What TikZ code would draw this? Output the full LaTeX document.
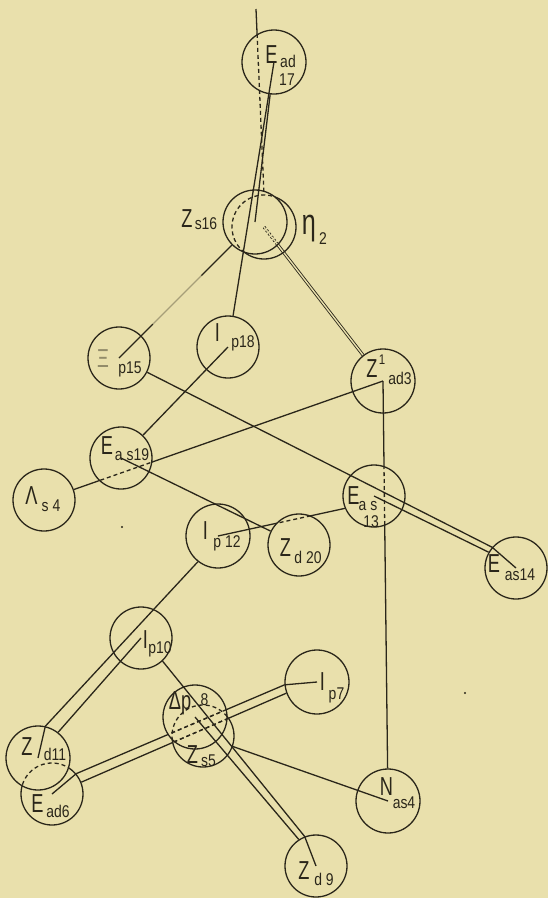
\documentclass[tikz,border=0pt]{standalone}
\usepackage{fontspec}
\usetikzlibrary{calc}
\newfontfamily\lfm[FakeStretch=0.7]{Liberation Sans}
\newfontfamily\lfs[FakeStretch=0.82]{Liberation Sans}
\definecolor{paper}{RGB}{233,224,172}
\definecolor{ink}{RGB}{42,38,26}
\newcommand\outclip[2]{\clip (-20,-20) rectangle (570,920) (#1.center) circle (#2pt);}
\newcommand\inclip[2]{\clip (#1.center) circle (#2pt);}
\newcommand\ballline[2]{\draw[ln] (#1.center) circle (#2pt);}
\tikzset{
  ln/.style={draw=ink, line width=1.3pt},
  hid/.style={dash pattern=on 4pt off 3pt},
  ghost/.style={circle, inner sep=0pt, outer sep=0.65pt},
  lab/.style={inner sep=0pt, text=ink, font=\lfm\fontsize{26}{26}\selectfont},
  sub/.style={inner sep=0pt, text=ink, font=\lfs\fontsize{17}{17}\selectfont},
  dbl/.style={draw=ink, line width=0.85pt, double=paper, double distance=1.4pt},
}
\begin{document}
\begin{tikzpicture}[x=1pt,y=-1pt]
\useasboundingbox (0,0) rectangle (548,898);
\fill[paper] (0,0) rectangle (548,898);

% ---- spheres (named) ----
\node[ghost,minimum size=64pt] (E17) at (274,62) {};
\node[ghost,minimum size=64pt] (Z16) at (255,222) {};
\node[ghost,minimum size=64pt] (H2)  at (264,227) {};
\node[ghost,minimum size=62pt] (X15) at (119,358) {};
\node[ghost,minimum size=62pt] (I18) at (228,347) {};
\node[ghost,minimum size=64pt] (Z3)  at (383,381) {};
\node[ghost,minimum size=62pt] (E19) at (121,458) {};
\node[ghost,minimum size=62pt] (L4)  at (44,500) {};
\node[ghost,minimum size=62pt] (E13) at (374,496) {};
\node[ghost,minimum size=64pt] (I12) at (218,536) {};
\node[ghost,minimum size=62pt] (Z20) at (299,545) {};
\node[ghost,minimum size=62pt] (E14) at (516,568) {};
\node[ghost,minimum size=62pt] (I10) at (141,638) {};
\node[ghost,minimum size=64pt] (I7)  at (317,682) {};
\node[ghost,minimum size=64pt] (D8)  at (195,717) {};
\node[ghost,minimum size=62pt] (Z5)  at (203,736) {};
\node[ghost,minimum size=64pt] (Z11) at (38,758) {};
\node[ghost,minimum size=62pt] (E6)  at (52,794) {};
\node[ghost,minimum size=64pt] (N4)  at (388,801) {};
\node[ghost,minimum size=62pt] (Z9)  at (316,866) {};

% ---- connectors ----
\coordinate (top) at (256,9);
\coordinate (topin) at ($(top)!0.134!(H2.north)$);
\draw[ln] (top) -- (topin);
\draw[ln,hid] (topin) -- (H2.north);

\draw[ln] (E17.center) -- (I18);
\draw[ln] (E17) -- (Z16.center);

\path (Z16) -- coordinate[pos=0.27] (f1) coordinate[pos=0.70] (f2) (X15.center);
\draw[ln] (Z16) -- (f1);
\draw[ln, draw opacity=0.35] (f1) -- (f2);
\draw[ln] (f2) -- (X15.center);

\begin{scope}[even odd rule]\outclip{Z16}{32}\draw[dbl] (H2.center) -- (Z3);\end{scope}
\begin{scope}\inclip{Z16}{32}\draw[dbl,dash pattern=on 2pt off 2pt] (H2.center) -- (Z3);\end{scope}

\draw[ln] (I18.center) -- (E19);
\draw[ln] (X15) -- (E14.139) -- (E14.center);
\draw[ln] (E13.center) -- (E14.150);

\begin{scope}[even odd rule]\outclip{E19}{31}\draw[ln] (L4) -- (Z3.center);\end{scope}
\begin{scope}\inclip{E19}{31}\draw[ln,hid] (L4) -- (Z3.center);\end{scope}

\draw[ln] (E19.center) -- (Z20);

\begin{scope}[even odd rule]\outclip{Z20}{31}\draw[ln] (I12.center) -- (E13.203);\end{scope}
\begin{scope}\inclip{Z20}{31}\draw[ln,hid] (I12.center) -- (E13.203);\end{scope}

\begin{scope}[even odd rule]\outclip{E13}{31}\draw[ln] (Z3.center) -- (N4);\end{scope}
\begin{scope}\inclip{E13}{31}\draw[ln,hid] (Z3.center) -- (N4);\end{scope}

\draw[ln] (I12.232) -- (Z11.77) -- (Z11.center);
\draw[ln] (I10.center) -- (Z11.52);

\draw[ln] (I10.-47) -- (Z9.111) -- (Z9.center);
\draw[ln] (D8.center) -- (Z9.123);

\draw[ln] (Z5) -- (N4.center);

\draw[ln] (I7.center) -- (I7.185);
\draw[ln] (E6.40) -- (E6.center);
\begin{scope}[even odd rule]\outclip{D8}{32}
  \begin{scope}[even odd rule]\outclip{Z5}{31}
    \draw[ln] (I7.185) -- (E6.40);
    \draw[ln] (I7.200) -- (E6.22);
  \end{scope}
\end{scope}
\begin{scope}\inclip{D8}{32}
  \draw[ln,hid] (I7.185) -- (E6.40);
  \draw[ln,hid] (I7.200) -- (E6.22);
\end{scope}
\begin{scope}\inclip{Z5}{31}
  \draw[ln,hid] (I7.185) -- (E6.40);
  \draw[ln,hid] (I7.200) -- (E6.22);
\end{scope}

% ---- sphere outlines ----
\ballline{E17}{32}
\ballline{Z16}{32}
\begin{scope}[even odd rule]\outclip{Z16}{32}\ballline{H2}{32}\end{scope}
\begin{scope}\inclip{Z16}{32}\draw[ln,hid] (H2.center) circle (32pt);\end{scope}
\ballline{X15}{31}
\ballline{I18}{31}
\ballline{Z3}{32}
\ballline{E19}{31}
\ballline{L4}{31}
\ballline{E13}{31}
\ballline{I12}{32}
\ballline{Z20}{31}
\ballline{E14}{31}
\ballline{I10}{31}
\ballline{I7}{32}
\ballline{D8}{32}
\begin{scope}[even odd rule]\outclip{D8}{32}\ballline{Z5}{31}\end{scope}
\begin{scope}\inclip{D8}{32}\draw[ln,hid] (Z5.center) circle (31pt);\end{scope}
\ballline{Z11}{32}
\begin{scope}[even odd rule]\outclip{Z11}{32}\ballline{E6}{31}\end{scope}
\begin{scope}\inclip{Z11}{32}\draw[ln,hid] (E6.center) circle (31pt);\end{scope}
\ballline{N4}{32}
\ballline{Z9}{31}

% ---- specks ----
\fill[ink] (122,527) circle (1.2pt);
\fill[ink] (465,693) circle (1.2pt);

% ---- labels ----
\node[lab] (tE17) at (271.5,55) {E};
\node[sub] (sE17) at (288,61.5) {ad};
\node[sub] (nE17) at (287,80) {17};
\node[lab] (tZ16) at (187,219) {Z};
\node[sub] (sZ16) at (206,224) {s16};
\node[lab,font=\lfm\fontsize{36}{36}\selectfont] (tH2) at (309,229) {η};
\node[sub] (sH2) at (323,239) {2};
\node[lab,text opacity=0.45] (tX15) at (103,358.5) {Ξ};
\node[sub] (sX15) at (130,369) {p15};
\node[lab] (tI18) at (217.5,333) {I};
\node[sub] (sI18) at (243,343) {p18};
\node[lab] (tZ3) at (372,369) {Z};
\node[sub,font=\lfs\fontsize{14}{14}\selectfont] (uZ3) at (382,360) {1};
\node[sub] (sZ3) at (400,378) {ad3};
\node[lab] (tE19) at (107,446) {E};
\node[sub] (sE19) at (132,455) {a s19};
\node[lab] (tL4) at (31.5,496) {Λ};
\node[sub] (sL4) at (51,506) {s 4};
\node[lab] (tI12) at (205.5,531) {I};
\node[sub] (sI12) at (227,543) {p 12};
\node[lab] (tZ20) at (285.5,548) {Z};
\node[sub] (sZ20) at (308,557.5) {d 20};
\node[lab] (tE13) at (353.5,496) {E};
\node[sub] (sE13) at (368,506.5) {a s};
\node[sub] (nE13) at (371,521.5) {13};
\node[lab] (tE14) at (494,564) {E};
\node[sub] (sE14) at (520,574.5) {as14};
\node[lab] (tI10) at (145.5,639.5) {I};
\node[sub] (sI10) at (160,649) {p10};
\node[lab] (tZ11) at (27,747) {Z};
\node[sub] (sZ11) at (55,754.5) {d11};
\node[lab] (tE6) at (37.5,804) {E};
\node[sub] (sE6) at (58,811.5) {ad6};
\node[lab] (tD8) at (180,703) {Δp};
\node[sub] (sD8) at (204.5,699.5) {8};
\node[lab] (tZ5) at (192.5,755) {Z};
\node[sub] (sZ5) at (208.5,760.5) {s5};
\node[lab] (tI7) at (322.5,682) {I};
\node[sub] (sI7) at (336.5,695.5) {p7};
\node[lab] (tN4) at (386.5,787) {N};
\node[sub] (sN4) at (404,802.5) {as4};
\node[lab] (tZ9) at (304,871) {Z};
\node[sub] (sZ9) at (324,879) {d 9};
\end{tikzpicture}
\end{document}
